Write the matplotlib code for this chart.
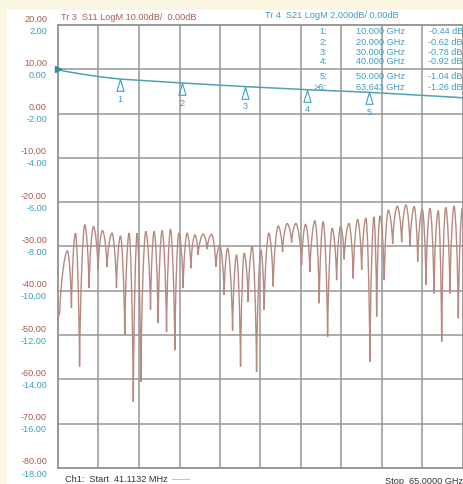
import matplotlib
matplotlib.use("Agg")
import matplotlib.pyplot as plt
from matplotlib.patches import Rectangle, PathPatch
from matplotlib.path import Path

W, H = 464, 484
plt.rcParams['font.family'] = ['Liberation Sans', 'DejaVu Sans']

# ---------------- data ----------------
f_start = 0.0411132   # GHz
f_stop = 65.0         # GHz

s11_scale = [20, 10, 0, -10, -20, -30, -40, -50, -60, -70, -80]
s21_scale = [2, 0, -2, -4, -6, -8, -10, -12, -14, -16, -18]

# S11 trace (GHz, dB) - peaks and nulls
s11_freq = [0.041, 0.32, 1.56, 2.20, 2.84, 3.50, 4.33, 5.02, 5.73, 6.47,
            7.17, 7.91, 8.71, 9.42, 10.06, 10.75, 11.44, 12.12, 12.73, 13.32,
            14.12, 14.88, 15.46, 16.10, 16.74, 17.45, 18.09, 18.78, 19.42, 20.11,
            20.75, 21.35, 21.99, 22.52, 23.32, 23.96, 24.67, 25.36, 26.00, 26.69,
            27.24, 28.04, 28.68, 29.32, 29.90, 30.54, 31.18, 31.89, 32.58, 33.11,
            33.86, 34.55, 35.36, 36.06, 36.80, 37.51, 38.20, 39.11, 39.75, 40.44,
            41.25, 41.94, 42.58, 43.28, 44.02, 44.73, 45.37, 45.95, 46.70, 47.39,
            48.10, 48.74, 49.43, 50.07, 50.72, 51.15, 51.68, 52.37, 53.01, 53.72,
            54.46, 55.16, 55.85, 56.49, 57.18, 57.73, 58.47, 59.06, 59.70, 60.34,
            61.03, 61.58, 62.22, 62.91, 63.56, 64.25, 64.89, 65.0]
s11_db = [-47.3, -45.0, -31.0, -43.9, -27.0, -57.1, -25.1, -39.4, -25.5, -35.3,
          -26.4, -34.6, -27.0, -39.4, -27.6, -50.0, -27.0, -65.0, -27.0, -60.5,
          -26.6, -44.3, -26.6, -47.3, -26.4, -49.2, -26.1, -53.4, -27.0, -39.4,
          -27.0, -34.9, -27.4, -31.9, -27.2, -30.6, -27.2, -34.6, -29.7, -40.9,
          -30.4, -49.0, -31.9, -57.1, -31.5, -42.5, -30.0, -58.3, -30.8, -44.3,
          -27.0, -39.0, -25.4, -31.2, -24.8, -29.1, -24.8, -34.2, -25.0, -35.7,
          -24.2, -42.8, -24.4, -50.4, -25.9, -37.6, -25.4, -32.9, -24.8, -37.2,
          -23.9, -35.3, -23.6, -56.0, -23.3, -45.8, -23.1, -37.6, -21.8, -29.4,
          -20.9, -29.0, -20.6, -30.0, -21.0, -33.4, -21.6, -38.7, -21.4, -40.6,
          -21.9, -51.5, -21.2, -40.6, -20.9, -46.2, -21.4, -22.5]

# S21 trace (GHz, dB)
s21_freq = [0.041, 1.0, 3.5, 6.5, 10.0, 20.0, 30.0, 40.0, 50.0, 63.643, 65.0]
s21_db = [0.0, -0.08, -0.20, -0.33, -0.44, -0.62, -0.78, -0.92, -1.04, -1.26, -1.29]

# markers
mk_ids = ["1", "2", "3", "4", "5"]
mk_freq = [10.0, 20.0, 30.0, 40.0, 50.0]
mk_db = [-0.44, -0.62, -0.78, -0.92, -1.04]

tbl_ids = ["1:", "2:", "3:", "4:", "5:", ">6:"]
tbl_freq = ["10.000 GHz", "20.000 GHz", "30.000 GHz", "40.000 GHz", "50.000 GHz", "63.643 GHz"]
tbl_val = ["-0.44 dB", "-0.62 dB", "-0.78 dB", "-0.92 dB", "-1.04 dB", "-1.26 dB"]

# ---------------- style ----------------
C_RED = '#A85A50'
C_TEAL = '#3E9EC0'
C_S11 = '#B68A80'
C_S21 = '#4FA2B4'
C_GRID = '#969696'
FS = 6.6

fig = plt.figure(figsize=(W / 100, H / 100), dpi=100)
fig.patch.set_facecolor('#FBF6E2')
fig.patches.append(Rectangle((7 / W, 0), 1, 1 - 10 / H, transform=fig.transFigure,
                             facecolor='white', edgecolor='none', zorder=-10))

x0, x1, y0, y1 = 58, 463, 25, 468
ax = fig.add_axes([x0 / W, 1 - y1 / H, (x1 - x0) / W, (y1 - y0) / H])
ax.set_zorder(2)
ax.set_xlim(f_start, f_stop)
ax.set_ylim(s11_scale[-1], s11_scale[0])
ax.set_facecolor('white')
ax2 = ax.twinx()
ax2.set_zorder(3)
ax2.patch.set_visible(False)
ax2.set_ylim(s21_scale[-1], s21_scale[0])

for a in (ax, ax2):
    a.tick_params(length=0, labelleft=False, labelright=False, labelbottom=False)
    for s in a.spines.values():
        s.set_color(C_GRID)
        s.set_linewidth(1.1)

# grid
ndiv = 10
for k in range(1, ndiv):
    xf = f_start + k * (f_stop - f_start) / ndiv
    ax.axvline(xf, color=C_GRID, lw=1.1, zorder=1)
for v in s11_scale[1:-1]:
    ax.axhline(v, color=C_GRID, lw=1.1, zorder=1)

# scale labels
for v in s11_scale:
    ax.annotate(f"{v:.2f}", xy=(0, v), xycoords=('axes fraction', 'data'),
                xytext=(-11, 6), textcoords='offset pixels', ha='right', va='center',
                color=C_RED, fontsize=FS, annotation_clip=False)
for v in s21_scale:
    ax2.annotate(f"{v:.2f}", xy=(0, v), xycoords=('axes fraction', 'data'),
                 xytext=(-11, -6), textcoords='offset pixels', ha='right', va='center',
                 color=C_TEAL, fontsize=FS, annotation_clip=False)

# S11 trace: rounded lobes between the read peaks / sharp nulls
verts = [(s11_freq[0], s11_db[0])]
codes = [Path.MOVETO]
for i in range(len(s11_freq) - 1):
    xa, ya = s11_freq[i], s11_db[i]
    xb, yb = s11_freq[i + 1], s11_db[i + 1]
    dx = xb - xa
    if yb >= ya:   # rising: null -> peak
        c1 = (xa + 0.12 * dx, ya + 0.5 * (yb - ya))
        c2 = (xb - 0.35 * dx, yb)
    else:          # falling: peak -> null
        c1 = (xa + 0.35 * dx, ya)
        c2 = (xb - 0.12 * dx, yb + 0.5 * (ya - yb))
    verts += [c1, c2, (xb, yb)]
    codes += [Path.CURVE4] * 3
ax.add_patch(PathPatch(Path(verts, codes), fill=False, edgecolor=C_S11, lw=1.0, zorder=3))

# S21 trace
ax2.plot(s21_freq, s21_db, color=C_S21, lw=1.1, zorder=4)

# reference marker
ax2.plot([f_start], [0.0], marker='>', color='#2E8C9C', markersize=5, clip_on=False, zorder=5)

# marker triangles (tip at trace)
tri = Path([(0, 0), (-0.3, -1.0), (0.3, -1.0), (0, 0)],
           [Path.MOVETO, Path.LINETO, Path.LINETO, Path.CLOSEPOLY])
for mid, mf, mv in zip(mk_ids, mk_freq, mk_db):
    ax2.plot([mf], [mv], marker=tri, markersize=17, markerfacecolor='none',
             markeredgecolor=C_TEAL, markeredgewidth=0.8, zorder=5)
    ax2.annotate(mid, xy=(mf, mv), xytext=(0, -20), textcoords='offset pixels',
                 ha='center', va='center', color=C_TEAL, fontsize=FS)

# headers
fig.text(61 / W, 1 - 17 / H, "Tr 3  S11 LogM 10.00dB/  0.00dB", color=C_RED,
         fontsize=FS, ha='left', va='center')
fig.text(265 / W, 1 - 15 / H, "Tr 4  S21 LogM 2.000dB/ 0.00dB", color=C_TEAL,
         fontsize=FS, ha='left', va='center')

# marker table
rows_y = [32, 42.7, 52.7, 61.7, 76.7, 87.3]
for ry, a, b, c in zip(rows_y, tbl_ids, tbl_freq, tbl_val):
    fig.text(327 / W, 1 - ry / H, a, color=C_TEAL, fontsize=FS, ha='right', va='center', zorder=5)
    fig.text(356 / W, 1 - ry / H, b, color=C_TEAL, fontsize=FS, ha='left', va='center', zorder=5)
    fig.text(463 / W, 1 - ry / H, c, color=C_TEAL, fontsize=FS, ha='right', va='center', zorder=5)

# footer
fig.text(65 / W, 1 - 480 / H, "Ch1:  Start  41.1132 MHz", color='#333333',
         fontsize=FS, ha='left', va='center')
fig.text(172 / W, 1 - 480 / H, "——", color='#7FA8C8', fontsize=FS, ha='left', va='center')
fig.text(463 / W, 1 - 481 / H, "Stop  65.0000 GHz", color='#333333',
         fontsize=FS, ha='right', va='center')

fig.savefig("out.png", dpi=100, facecolor=fig.get_facecolor())
